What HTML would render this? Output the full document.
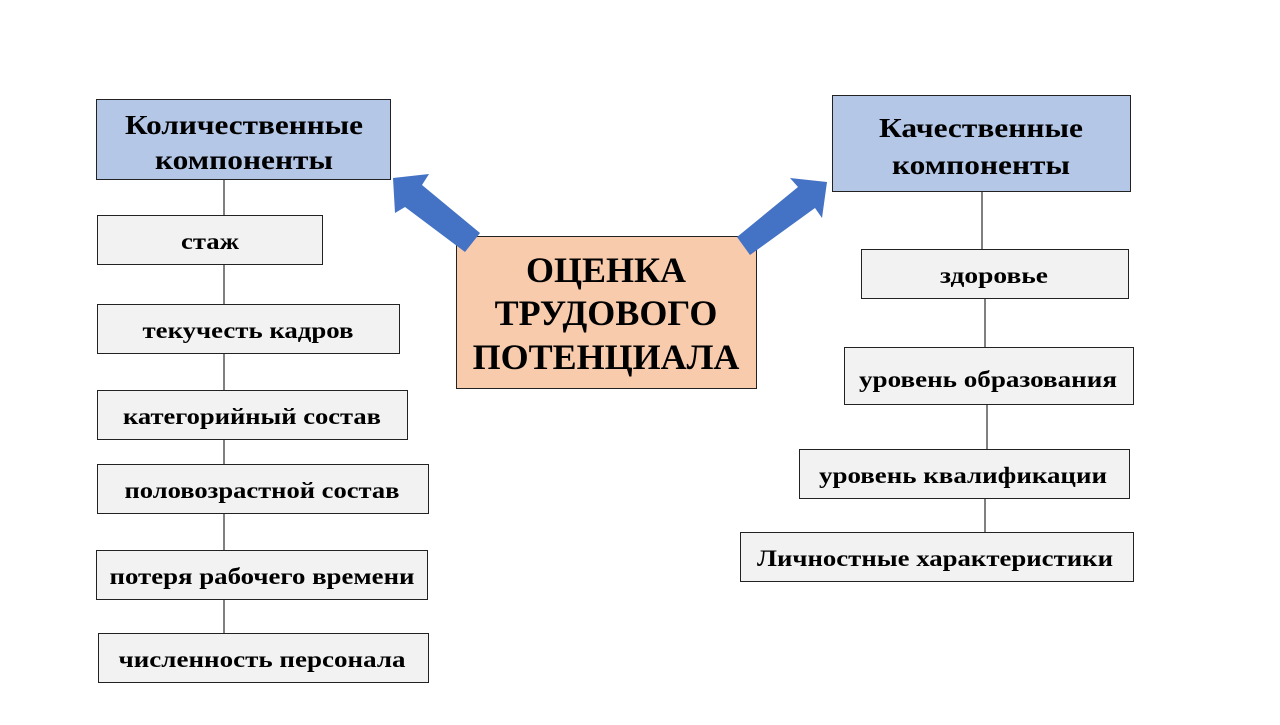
<!DOCTYPE html>
<html><head><meta charset="utf-8"><style>
body{margin:0;background:#fff;}
svg text{font-family:"Liberation Serif",serif;font-weight:bold;fill:#000;}
</style></head><body>
<svg width="1280" height="720" xmlns="http://www.w3.org/2000/svg">
<g stroke="#000" stroke-width="1">
<line x1="224" y1="180" x2="224" y2="634"/>
<line x1="982" y1="192" x2="982" y2="250"/>
<line x1="985" y1="298" x2="985" y2="348"/>
<line x1="987" y1="404" x2="987" y2="450"/>
<line x1="985" y1="498" x2="985" y2="533"/>
</g>
<g stroke="#222" stroke-width="1">
<rect x="96.5" y="99.5" width="294" height="80" fill="#b4c7e7"/>
<rect x="832.5" y="95.5" width="298" height="96" fill="#b4c7e7"/>
<rect x="456.5" y="236.5" width="300" height="152" fill="#f8cbad"/>
<g fill="#f2f2f2">
<rect x="97.5" y="215.5" width="225" height="49"/>
<rect x="97.5" y="304.5" width="302" height="49"/>
<rect x="97.5" y="390.5" width="310" height="49"/>
<rect x="97.5" y="464.5" width="331" height="49"/>
<rect x="96.5" y="550.5" width="331" height="49"/>
<rect x="98.5" y="633.5" width="330" height="49"/>
<rect x="861.5" y="249.5" width="267" height="49"/>
<rect x="844.5" y="347.5" width="289" height="57"/>
<rect x="799.5" y="449.5" width="330" height="49"/>
<rect x="740.5" y="532.5" width="393" height="49"/>
</g></g>
<polygon fill="#4472c4" points="393,178 429,174 422,185 480,233 465,252 405,207 395,213"/>
<polygon fill="#4472c4" points="827,182 790,178 798,187 737,237 750,255 815,208 822,218"/>
<g font-size="27" text-anchor="middle" lengthAdjust="spacingAndGlyphs">
<text x="244" y="134" textLength="238" lengthAdjust="spacingAndGlyphs">Количественные</text>
<text x="244" y="169" textLength="178" lengthAdjust="spacingAndGlyphs">компоненты</text>
<text x="981" y="137" textLength="204" lengthAdjust="spacingAndGlyphs">Качественные</text>
<text x="981" y="174" textLength="178" lengthAdjust="spacingAndGlyphs">компоненты</text>
</g>
<g font-size="36" text-anchor="middle">
<text x="606" y="282">ОЦЕНКА</text>
<text x="606" y="325">ТРУДОВОГО</text>
<text x="606" y="369">ПОТЕНЦИАЛА</text>
</g>
<g font-size="23" text-anchor="middle">
<text x="210" y="249" textLength="58" lengthAdjust="spacingAndGlyphs">стаж</text>
<text x="248" y="338" textLength="211" lengthAdjust="spacingAndGlyphs">текучесть кадров</text>
<text x="252" y="424" textLength="258" lengthAdjust="spacingAndGlyphs">категорийный состав</text>
<text x="262" y="498" textLength="275" lengthAdjust="spacingAndGlyphs">половозрастной состав</text>
<text x="262" y="584" textLength="305" lengthAdjust="spacingAndGlyphs">потеря рабочего времени</text>
<text x="262" y="667" textLength="287" lengthAdjust="spacingAndGlyphs">численность персонала</text>
<text x="994" y="283" textLength="108" lengthAdjust="spacingAndGlyphs">здоровье</text>
<text x="988" y="387" textLength="258" lengthAdjust="spacingAndGlyphs">уровень образования</text>
<text x="963" y="483" textLength="288" lengthAdjust="spacingAndGlyphs">уровень квалификации</text>
<text x="935" y="566" textLength="356" lengthAdjust="spacingAndGlyphs">Личностные характеристики</text>
</g>
</svg>
</body></html>
